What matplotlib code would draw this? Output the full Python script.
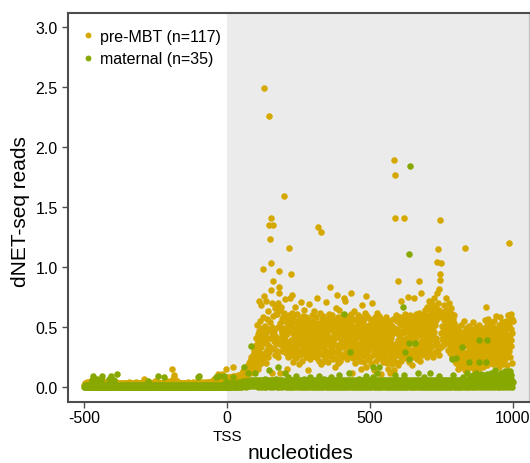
import numpy as np
import matplotlib
matplotlib.use("Agg")
from matplotlib import pyplot as plt
from matplotlib.lines import Line2D
from matplotlib.transforms import blended_transform_factory

plt.rcParams['font.family'] = ['Liberation Sans', 'DejaVu Sans']

# positions relative to the TSS, one value per nucleotide
nucleotides = np.arange(-500, 1001)

# dNET-seq reads x 100
pre_mbt = [
    # -500
    2,1,3,2,1,2,3,2,1,2,4,3,2,1,2,3,2,4,3,2,1,2,3,5,4,
    3,2,1,2,3,2,4,3,2,1,3,2,2,1,3,4,5,3,2,1,2,3,2,1,2,
    3,4,2,1,2,3,2,1,3,2,4,3,2,1,2,3,5,4,3,2,1,2,3,2,4,
    3,2,1,2,3,2,1,3,4,2,1,2,3,2,1,2,4,3,2,1,2,3,2,1,3,
    # -400
    2,3,4,2,1,2,3,2,1,2,3,2,4,3,2,1,2,3,2,1,2,3,2,1,2,
    3,2,1,2,1,2,3,2,1,2,3,2,1,2,1,2,3,2,1,2,3,2,1,2,3,
    2,1,2,3,2,1,2,3,4,3,2,1,2,3,2,1,2,1,2,3,2,1,2,3,2,
    1,2,3,2,1,2,3,4,2,1,2,3,2,1,2,3,2,1,2,1,2,3,2,1,2,
    # -300
    2,3,2,1,2,3,2,4,7,3,2,1,2,3,2,1,2,3,2,1,2,3,2,1,2,
    3,4,2,1,2,3,2,1,2,3,2,1,3,2,1,2,3,2,1,2,3,2,1,4,5,
    3,2,1,2,3,2,1,2,3,4,2,1,2,3,2,1,2,3,2,1,2,3,2,1,2,
    3,2,1,2,3,4,3,2,1,2,3,2,1,2,3,4,5,3,2,1,2,3,4,2,1,
    # -200
    2,3,4,3,5,4,6,15,4,3,5,6,4,3,8,10,5,4,6,4,3,5,5,4,3,
    4,5,3,2,4,3,2,1,2,3,2,1,2,3,2,1,2,3,2,1,2,3,2,1,2,
    3,2,1,2,3,2,1,2,3,2,1,2,3,4,3,2,1,2,3,2,1,2,3,2,1,
    2,3,2,1,2,3,2,4,3,2,1,2,3,2,1,2,3,2,1,2,3,4,3,2,1,
    # -100
    2,3,2,1,2,3,4,3,2,1,2,3,2,1,2,3,4,3,2,1,2,3,2,1,2,
    3,4,3,2,1,2,3,4,3,2,1,2,3,4,3,2,4,3,2,1,3,4,5,3,2,
    3,4,5,4,3,7,4,3,2,4,5,5,4,3,4,5,4,3,6,5,11,3,5,4,6,
    5,4,3,5,4,6,5,11,3,4,5,4,6,4,3,5,6,4,3,5,15,6,5,8,6,
    # 0
    6,5,8,4,6,7,5,4,6,8,5,7,4,6,5,8,6,4,7,5,17,9,5,7,6,
    8,6,5,7,9,7,6,8,5,7,6,9,7,8,10,6,8,7,9,6,8,10,7,9,8,
    10,8,12,9,7,11,13,9,10,14,8,12,11,15,10,13,17,12,9,14,16,11,15,18,13,
    17,14,20,16,12,19,22,15,18,25,14,21,17,24,20,27,16,23,30,19,26,22,28,18,32,
    # 100
    35,22,41,30,29,52,27,38,15,44,31,72,24,47,36,19,55,28,42,33,68,26,49,37,21,
    45,98,58,39,24,76,249,51,28,43,72,37,20,46,31,57,40,25,48,35,63,135,29,226,41,
    54,33,123,141,103,81,70,12,45,50,88,135,59,44,38,47,32,66,39,27,42,61,36,68,30,
    61,28,50,37,70,25,83,78,97,64,40,53,12,48,67,35,44,57,30,46,58,49,36,31,62,
    # 200
    41,159,55,34,73,28,48,38,58,29,44,15,52,36,47,25,60,33,116,74,50,26,56,39,28,
    94,62,31,53,77,21,45,58,30,49,35,42,26,67,40,33,55,24,47,61,36,37,46,29,51,
    29,51,43,19,57,38,45,27,71,35,48,22,54,40,31,59,44,29,50,37,64,28,42,53,33,
    46,25,58,39,30,52,41,14,56,35,47,29,69,43,23,50,38,55,27,44,34,60,32,48,37,
    # 300
    52,30,45,63,26,40,55,35,28,49,42,58,31,47,24,74,38,51,29,44,133,22,41,53,36,
    28,48,62,33,129,19,57,39,50,45,27,43,59,35,48,22,54,41,37,31,46,71,25,52,38,
    44,30,57,21,49,36,61,40,27,53,83,30,58,34,48,26,55,42,33,60,23,47,38,51,42,
    29,56,41,17,50,35,66,44,24,53,77,46,31,58,20,49,42,64,28,45,36,55,22,51,40,
    # 400
    40,33,48,25,56,39,44,60,74,47,35,53,28,72,41,27,50,37,57,30,45,23,54,48,32,
    49,38,59,26,43,52,31,46,35,61,78,55,40,12,48,33,57,24,44,37,63,27,51,39,20,
    45,36,31,56,42,25,50,36,60,28,47,33,54,28,44,58,22,49,37,52,15,46,40,68,30,
    53,26,43,35,57,21,48,39,62,29,45,34,76,17,50,41,27,59,36,46,23,52,38,44,31,
    # 500
    48,25,57,42,35,44,20,53,38,70,27,46,33,55,14,49,40,29,58,36,43,22,51,31,47,
    62,28,45,37,26,54,41,33,59,24,48,36,52,11,44,30,57,26,50,39,21,46,35,55,29,
    42,27,53,37,48,25,58,32,45,20,40,51,28,36,15,47,33,55,22,43,38,12,49,30,41,
    26,52,35,44,19,50,31,57,24,46,189,14,141,29,177,36,60,21,48,33,55,27,45,39,18,
    # 600
    88,31,43,44,36,58,52,26,47,35,72,22,53,40,29,57,38,30,45,31,54,141,61,27,48,
    36,59,24,50,41,25,56,34,75,29,46,38,53,21,39,44,31,60,26,49,37,55,18,47,42,
    58,30,52,25,74,39,46,33,57,30,49,42,61,28,54,36,45,23,59,32,50,88,27,62,35,
    48,56,22,43,38,78,30,51,45,27,60,34,53,29,47,41,57,36,48,29,64,33,44,52,25,
    # 700
    55,38,67,45,30,60,49,72,36,58,42,65,28,53,47,70,33,61,44,57,25,68,50,39,63,
    46,74,35,59,52,29,66,41,56,78,37,62,104,31,70,115,82,64,27,58,139,89,94,60,45,
    33,103,51,40,62,44,47,35,50,36,56,68,42,57,41,63,53,74,39,55,60,48,65,31,57,
    44,70,36,52,63,28,58,47,66,34,55,41,61,25,50,38,57,45,30,53,42,60,22,48,35,
    # 800
    32,45,20,38,27,50,24,41,15,35,29,47,18,33,44,22,39,26,52,30,17,42,28,36,21,
    46,25,34,19,40,28,55,23,37,14,116,44,26,49,20,35,29,42,16,38,27,51,24,33,45,
    19,37,28,43,30,22,35,48,17,30,41,26,54,21,39,32,15,44,27,36,23,50,29,18,40,
    34,25,47,20,38,29,52,16,33,42,24,36,19,45,28,31,40,22,49,26,35,17,43,30,38,
    # 900
    27,44,33,56,21,39,48,30,67,52,36,18,43,31,57,24,40,35,49,20,46,28,38,53,26,
    34,45,22,32,37,29,50,19,41,33,55,26,38,47,23,31,42,59,28,36,20,48,34,44,25,
    39,52,30,17,45,35,27,58,41,22,33,49,29,38,54,24,43,32,19,47,36,27,51,40,30,
    23,44,36,55,28,41,18,49,33,60,26,120,37,52,30,43,56,25,39,61,34,48,20,57,45,
    55,
]

maternal = [
    # -500
    0,1,0,2,1,0,1,2,0,1,0,1,2,1,0,1,0,2,1,0,1,0,1,0,1,
    2,0,1,6,1,0,9,1,0,2,1,0,1,0,2,1,0,1,0,1,7,0,1,2,0,
    1,0,1,0,5,1,0,2,1,0,6,1,0,9,1,0,1,0,2,1,0,1,0,2,1,
    0,1,0,2,1,0,1,0,2,1,7,0,1,2,0,1,0,2,1,0,9,1,0,2,1,
    # -400
    1,0,2,1,0,6,1,0,1,0,1,2,0,11,1,0,2,1,0,1,0,2,1,0,1,
    0,1,2,0,1,0,1,0,2,1,0,1,0,1,2,0,1,0,1,0,2,1,0,1,0,
    1,0,2,1,0,1,0,1,2,0,1,0,1,0,2,1,0,1,0,1,2,0,1,0,1,
    0,2,1,0,1,0,1,2,0,1,0,1,0,2,1,0,1,0,1,0,2,1,0,1,0,
    # -300
    1,0,2,1,0,1,0,1,2,0,1,0,1,0,2,1,0,1,0,1,2,0,1,0,5,
    0,1,0,1,1,0,2,1,0,1,0,1,2,0,1,0,1,0,2,1,0,1,0,1,0,
    2,1,0,1,0,1,2,9,1,0,1,0,2,1,0,1,0,1,2,0,1,0,1,0,2,
    0,1,0,1,8,2,1,0,1,0,1,0,2,1,0,1,0,2,1,0,1,0,1,0,1,
    # -200
    1,0,2,1,0,1,0,1,2,0,1,0,1,0,2,1,0,1,0,1,2,0,1,0,1,
    0,1,0,2,1,0,1,0,1,2,0,1,0,1,0,2,1,0,1,0,1,2,0,1,0,
    1,0,2,1,0,1,0,1,0,2,1,0,1,0,1,2,0,1,0,1,0,2,1,0,1,
    0,1,2,0,1,0,1,0,2,1,0,1,0,1,0,2,1,0,1,0,1,2,8,1,0,
    # -100
    1,0,1,9,0,2,1,0,1,1,0,1,2,0,1,0,1,0,2,1,0,1,0,1,2,
    0,1,0,1,2,0,1,0,2,1,0,1,0,1,2,0,1,0,1,0,2,1,0,1,0,
    1,0,2,1,0,1,0,1,2,0,8,0,1,0,2,1,0,1,0,1,2,0,1,9,0,
    1,2,0,1,1,0,2,1,0,1,0,2,1,0,1,9,0,2,1,0,1,0,2,5,0,
    # 0
    2,1,2,0,1,3,2,1,0,2,1,3,0,2,1,0,3,2,1,0,2,1,8,0,2,
    1,2,0,3,1,2,2,0,1,3,2,0,1,2,3,1,0,2,4,1,3,0,2,1,3,
    2,4,1,3,0,2,5,1,3,2,4,17,1,3,5,2,0,4,3,1,5,2,4,12,3,
    1,5,2,4,3,6,1,4,34,3,5,2,4,6,3,1,5,2,4,6,3,2,12,5,4,
    # 100
    3,5,1,6,4,2,3,5,3,0,6,2,4,5,1,3,6,2,4,0,5,3,1,6,4,
    2,5,3,0,6,4,1,5,2,7,3,6,0,4,2,5,1,3,6,4,2,14,5,1,3,
    6,0,4,2,5,3,1,6,2,4,2,5,0,3,6,1,4,2,5,3,7,1,6,2,4,
    0,5,3,6,1,17,2,5,0,3,6,2,4,1,5,3,0,2,6,4,2,4,1,5,3,
    # 200
    4,2,12,1,5,3,0,4,2,6,1,5,3,8,0,4,2,6,1,5,3,0,4,6,2,
    5,1,3,6,0,4,2,5,1,3,6,0,4,2,5,9,3,6,1,4,0,5,2,3,6,
    1,4,2,5,0,3,6,1,4,2,5,3,0,6,4,1,5,2,3,7,0,4,6,2,5,
    1,3,0,6,4,2,5,1,3,6,0,4,2,5,1,8,3,6,0,4,2,5,1,3,6,
    # 300
    4,0,5,2,6,1,3,4,0,5,2,6,1,3,4,0,5,2,6,1,3,9,4,0,5,
    2,6,1,3,4,0,5,2,6,1,3,4,0,5,7,2,6,1,3,4,0,5,2,6,1,
    3,4,0,5,2,6,1,3,4,0,5,2,6,1,8,3,4,0,5,2,6,1,3,4,0,
    5,2,6,1,3,4,0,5,2,6,1,3,4,0,5,2,6,10,1,3,4,0,5,2,6,
    # 400
    1,3,4,0,5,2,6,1,3,61,0,5,2,6,1,3,4,0,5,2,6,1,3,4,0,
    5,12,2,6,1,3,4,29,0,5,2,6,1,3,4,0,5,2,6,1,3,4,0,5,2,
    2,6,1,3,4,0,5,2,6,1,3,7,4,0,5,2,6,1,3,4,0,5,2,6,1,
    3,4,0,5,2,6,1,3,4,0,5,2,9,6,1,3,4,0,5,2,6,1,3,4,0,
    # 500
    5,2,6,1,3,4,0,5,2,6,1,3,8,17,0,5,2,6,1,3,4,0,5,2,6,
    12,3,4,0,1,5,17,6,1,3,4,0,5,2,6,1,3,4,0,5,2,6,1,3,4,
    3,4,0,5,2,6,1,3,4,0,5,2,6,1,3,4,0,5,2,6,1,3,4,0,5,
    2,6,1,3,4,0,5,2,6,1,3,4,0,10,5,2,6,1,3,4,0,5,2,6,1,
    # 600
    3,4,0,5,2,6,1,3,4,0,5,2,6,1,3,4,0,5,67,6,10,1,29,4,0,
    5,2,6,1,3,4,0,5,2,6,1,37,23,4,111,184,0,5,2,6,1,3,4,0,5,
    2,6,1,3,4,0,5,2,37,6,1,3,4,0,5,2,6,1,3,4,12,0,5,2,6,
    1,3,4,0,5,2,6,1,3,4,0,5,2,6,8,1,3,4,0,5,2,6,1,3,4,
    # 700
    0,5,2,6,1,3,4,0,5,2,12,6,1,3,4,0,5,2,6,1,3,4,0,5,2,
    6,1,3,4,0,5,2,6,1,3,4,0,5,2,6,1,3,4,0,9,2,6,1,3,4,
    0,5,2,6,1,3,4,0,5,2,6,1,3,4,0,5,2,6,1,3,4,0,5,2,6,
    1,3,4,0,5,2,6,1,3,4,0,5,23,2,6,10,1,3,4,0,5,2,6,1,3,
    # 800
    4,0,5,24,2,6,1,3,4,0,5,2,6,1,3,4,0,5,2,6,1,3,33,4,0,
    5,2,6,8,1,3,4,0,5,2,6,1,3,4,0,12,5,2,6,1,3,21,4,0,5,
    2,6,8,1,3,4,7,0,5,2,10,6,1,3,4,9,0,5,7,2,6,1,12,3,4,
    8,0,5,2,6,9,1,3,21,39,4,7,0,5,11,2,6,1,8,3,4,10,0,5,7,
    # 900
    2,6,9,1,3,4,8,0,21,39,5,11,2,6,1,7,3,4,10,0,5,8,2,6,12,
    1,3,7,4,0,5,9,2,6,1,8,3,4,0,14,5,2,6,7,1,3,10,4,0,5,
    8,2,6,1,7,3,4,0,12,5,2,6,9,1,3,4,8,0,5,7,2,6,1,11,3,
    13,4,7,0,5,9,2,6,13,1,3,8,4,0,5,6,13,2,7,1,3,10,4,0,5,
    4,
]

series_labels = ['pre-MBT (n=117)', 'maternal (n=35)']
series_colors = ['#D5A800', '#86A800']
y_ticks = [0.0, 0.5, 1.0, 1.5, 2.0, 2.5, 3.0]
x_ticks = [-500, 0, 500, 1000]


def main():
    pre = np.array(pre_mbt) / 100.0
    mat = np.array(maternal) / 100.0
    assert len(pre) == len(nucleotides) and len(mat) == len(nucleotides), (len(pre), len(mat))

    fig = plt.figure(figsize=(5.3, 4.64), dpi=100)
    W, H = 530.0, 464.0
    ax = fig.add_axes([68 / W, 1 - 402.5 / H, (528.5 - 68) / W, (402.5 - 14) / H])
    ax.set_xlim(-557, 1056)
    ax.set_ylim(-0.121, 3.117)

    # grey shading downstream of the TSS
    ax.axvspan(0, 1056, color='#ebebeb', lw=0, zorder=0)

    ax.scatter(nucleotides, pre, s=22, c=series_colors[0], linewidths=0, zorder=2)
    ax.scatter(nucleotides, mat, s=22, c=series_colors[1], linewidths=0, zorder=3)

    for side in ['left', 'bottom', 'top']:
        ax.spines[side].set_color('#4d4d4d')
        ax.spines[side].set_linewidth(1.5)
    ax.spines['right'].set_color('#c4c4c4')
    ax.spines['right'].set_linewidth(1.0)

    ax.set_xticks(x_ticks)
    ax.set_xticklabels([str(v) for v in x_ticks])
    ax.set_yticks(y_ticks)
    ax.set_yticklabels(['{:.1f}'.format(v) for v in y_ticks])
    ax.tick_params(axis='x', direction='out', length=4, width=1, color='#4d4d4d',
                   labelsize=11.5, pad=2)
    ax.tick_params(axis='y', direction='out', length=4, width=1, color='#4d4d4d',
                   labelsize=11.5, pad=3.5)

    ax.set_xlabel('nucleotides', fontsize=15, va='baseline')
    ax.xaxis.set_label_coords(0.505, -0.1447)
    ax.set_ylabel('dNET-seq reads', fontsize=15, va='center')
    ax.yaxis.set_label_coords(-0.103, 0.491)

    trans = blended_transform_factory(ax.transData, ax.transAxes)
    ax.text(0, -0.099, 'TSS', transform=trans, ha='center', va='baseline', fontsize=11)

    handles = [Line2D([], [], marker='o', ls='', color=c, markersize=4.2, markeredgewidth=0)
               for c in series_colors]
    ax.legend(handles, series_labels, loc='upper left', bbox_to_anchor=(0.033, 0.959),
              frameon=False, fontsize=11.5, handlelength=0.6, handletextpad=0.45,
              labelspacing=0.45, borderaxespad=0, borderpad=0)

    fig.savefig('out.png', dpi=100)


if __name__ == "__main__":
    main()
